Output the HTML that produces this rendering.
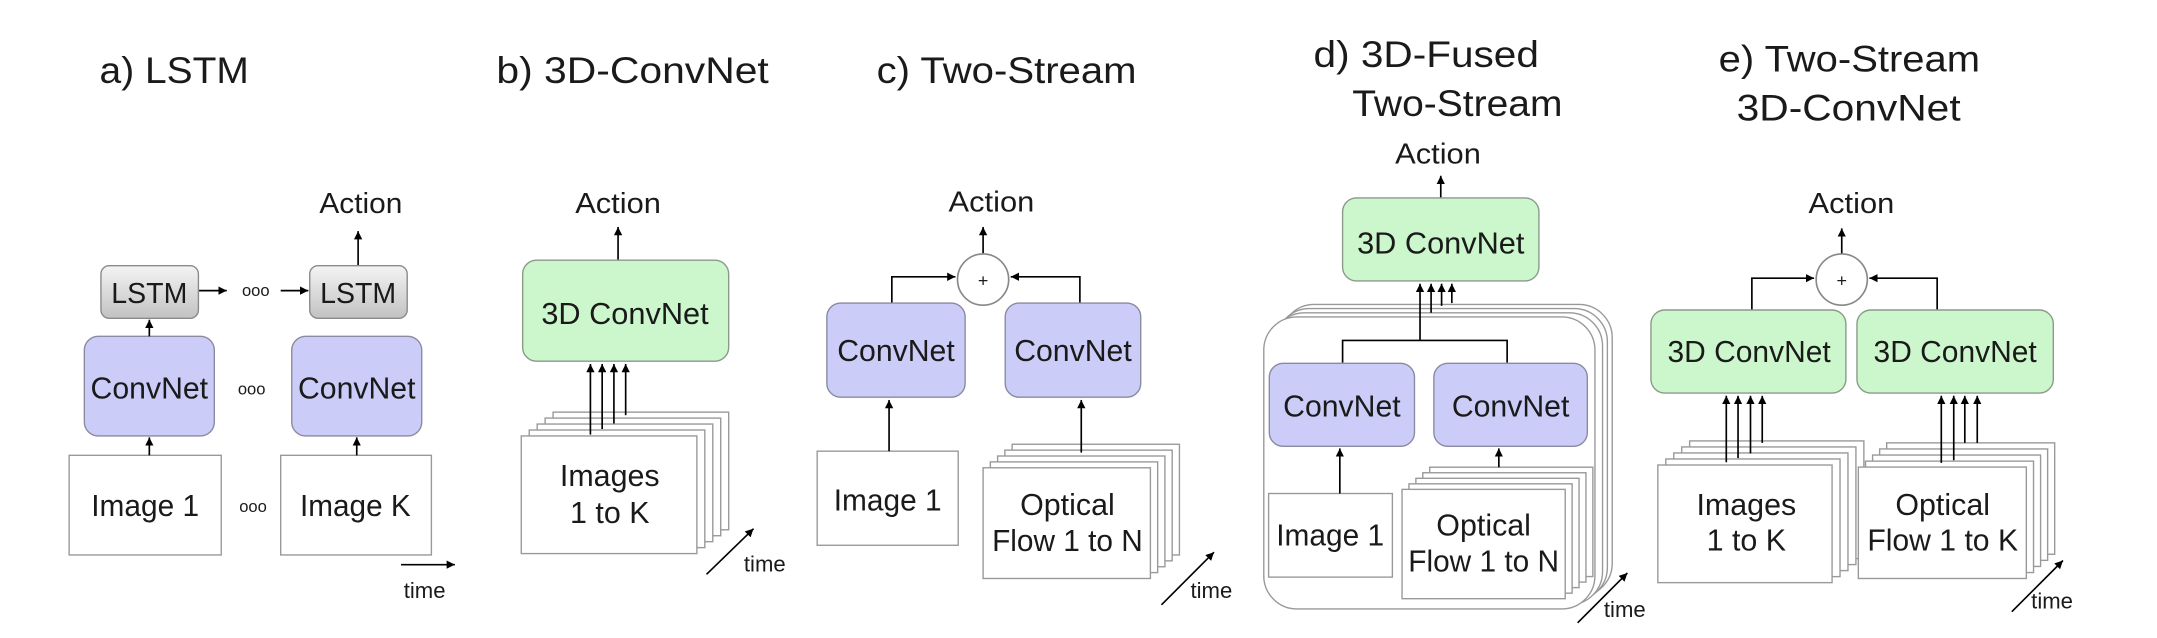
<!DOCTYPE html>
<html><head><meta charset="utf-8"><style>
html,body{margin:0;padding:0;background:#fff;}
svg{display:block;}
text{font-family:"Liberation Sans",sans-serif;fill:#1a1a1a;}
</style></head><body>
<svg width="2157" height="638" viewBox="0 0 1560 461" preserveAspectRatio="none" xmlns="http://www.w3.org/2000/svg">
<defs>
<marker id="ah" markerUnits="userSpaceOnUse" markerWidth="8" markerHeight="8" refX="6" refY="3" orient="auto">
<path d="M0,0 L6,3 L0,6 Z" fill="#000"/>
</marker>
<linearGradient id="lg" x1="0" y1="0" x2="0" y2="1">
<stop offset="0" stop-color="#f4f4f4"/><stop offset="1" stop-color="#c2c2c2"/>
</linearGradient>
</defs>
<g stroke="#000" stroke-width="1.2" fill="none">
</g>

<!-- Titles -->
<text x="72" y="60" font-size="27" textLength="108" lengthAdjust="spacingAndGlyphs">a) LSTM</text>
<text x="359" y="60" font-size="27" textLength="197" lengthAdjust="spacingAndGlyphs">b) 3D-ConvNet</text>
<text x="634" y="60" font-size="27" textLength="188" lengthAdjust="spacingAndGlyphs">c) Two-Stream</text>
<text x="950" y="48.5" font-size="27" textLength="163" lengthAdjust="spacingAndGlyphs">d) 3D-Fused</text>
<text x="978" y="84" font-size="27" textLength="152" lengthAdjust="spacingAndGlyphs">Two-Stream</text>
<text x="1243" y="51.5" font-size="27" textLength="189" lengthAdjust="spacingAndGlyphs">e) Two-Stream</text>
<text x="1256" y="87" font-size="27" textLength="162" lengthAdjust="spacingAndGlyphs">3D-ConvNet</text>

<!-- ===== a) LSTM ===== -->
<text x="231" y="154" font-size="21" textLength="60" lengthAdjust="spacingAndGlyphs">Action</text>
<line x1="259" y1="192" x2="259" y2="167" stroke="#000" stroke-width="1.2" marker-end="url(#ah)"/>
<rect x="73" y="192" width="70.5" height="38" rx="6" fill="url(#lg)" stroke="#8a8a8a"/>
<rect x="224" y="192" width="70.5" height="38" rx="6" fill="url(#lg)" stroke="#8a8a8a"/>
<text x="108" y="219" font-size="21" text-anchor="middle" textLength="55" lengthAdjust="spacingAndGlyphs">LSTM</text>
<text x="259" y="219" font-size="21" text-anchor="middle" textLength="55" lengthAdjust="spacingAndGlyphs">LSTM</text>
<line x1="144" y1="210" x2="164" y2="210" stroke="#000" stroke-width="1.2" marker-end="url(#ah)"/>
<text x="185" y="214" font-size="12" text-anchor="middle">ooo</text>
<line x1="203" y1="210" x2="223" y2="210" stroke="#000" stroke-width="1.2" marker-end="url(#ah)"/>
<rect x="61" y="243" width="94" height="72" rx="10" fill="#ccccf8" stroke="#8a8aa0"/>
<rect x="211" y="243" width="94" height="72" rx="10" fill="#ccccf8" stroke="#8a8aa0"/>
<text x="108" y="288" font-size="22" text-anchor="middle" textLength="85" lengthAdjust="spacingAndGlyphs">ConvNet</text>
<text x="258" y="288" font-size="22" text-anchor="middle" textLength="85" lengthAdjust="spacingAndGlyphs">ConvNet</text>
<line x1="108" y1="243" x2="108" y2="231" stroke="#000" stroke-width="1.2" marker-end="url(#ah)"/>
<text x="182" y="285" font-size="12" text-anchor="middle">ooo</text>
<rect x="50" y="329" width="110" height="72" fill="#fff" stroke="#999"/>
<rect x="203" y="329" width="109" height="72" fill="#fff" stroke="#999"/>
<text x="105" y="373" font-size="22" text-anchor="middle" textLength="78" lengthAdjust="spacingAndGlyphs">Image 1</text>
<text x="257" y="373" font-size="22" text-anchor="middle" textLength="80" lengthAdjust="spacingAndGlyphs">Image K</text>
<line x1="108" y1="329" x2="108" y2="316" stroke="#000" stroke-width="1.2" marker-end="url(#ah)"/>
<line x1="258" y1="329" x2="258" y2="316" stroke="#000" stroke-width="1.2" marker-end="url(#ah)"/>
<text x="183" y="370" font-size="12" text-anchor="middle">ooo</text>
<line x1="290" y1="408" x2="329" y2="408" stroke="#000" stroke-width="1.2" marker-end="url(#ah)"/>
<text x="292" y="432" font-size="16">time</text>

<!-- ===== b) 3D-ConvNet ===== -->
<text x="416" y="154" font-size="21" textLength="62" lengthAdjust="spacingAndGlyphs">Action</text>
<line x1="447" y1="188" x2="447" y2="164" stroke="#000" stroke-width="1.2" marker-end="url(#ah)"/>
<rect x="378" y="188" width="149" height="73" rx="10" fill="#ccf7cc" stroke="#8a9a8a"/>
<text x="452" y="234" font-size="22" text-anchor="middle" textLength="121" lengthAdjust="spacingAndGlyphs">3D ConvNet</text>
<g fill="#fff" stroke="#999">
<rect x="400" y="297.8" width="127" height="85"/>
<rect x="394.25" y="302.1" width="127" height="85"/>
<rect x="388.5" y="306.4" width="127" height="85"/>
<rect x="382.75" y="310.7" width="127" height="85"/>
<rect x="377" y="315" width="127" height="85"/>
</g>
<g stroke="#000" stroke-width="1.2">
<line x1="427" y1="314" x2="427" y2="263" marker-end="url(#ah)"/>
<line x1="435.5" y1="310" x2="435.5" y2="263" marker-end="url(#ah)"/>
<line x1="444" y1="306" x2="444" y2="263" marker-end="url(#ah)"/>
<line x1="452.5" y1="300" x2="452.5" y2="263" marker-end="url(#ah)"/>
</g>
<text x="441" y="351" font-size="22" text-anchor="middle">Images</text>
<text x="441" y="378" font-size="22" text-anchor="middle">1 to K</text>
<line x1="511" y1="415" x2="545" y2="382" stroke="#000" stroke-width="1.2" marker-end="url(#ah)"/>
<text x="538" y="413" font-size="16">time</text>

<!-- ===== c) Two-Stream ===== -->
<text x="686" y="153" font-size="21" textLength="62" lengthAdjust="spacingAndGlyphs">Action</text>
<line x1="711" y1="183" x2="711" y2="164" stroke="#000" stroke-width="1.2" marker-end="url(#ah)"/>
<circle cx="711" cy="202" r="18.5" fill="#fff" stroke="#888" stroke-width="1.2"/>
<text x="711" y="207" font-size="13" text-anchor="middle">+</text>
<polyline points="645,219 645,200 691,200" fill="none" stroke="#000" stroke-width="1.2" marker-end="url(#ah)"/>
<polyline points="781,219 781,200 731,200" fill="none" stroke="#000" stroke-width="1.2" marker-end="url(#ah)"/>
<rect x="598" y="219" width="100" height="68" rx="10" fill="#ccccf8" stroke="#8a8aa0"/>
<rect x="727" y="219" width="98" height="68" rx="10" fill="#ccccf8" stroke="#8a8aa0"/>
<text x="648" y="261" font-size="22" text-anchor="middle" textLength="85" lengthAdjust="spacingAndGlyphs">ConvNet</text>
<text x="776" y="261" font-size="22" text-anchor="middle" textLength="85" lengthAdjust="spacingAndGlyphs">ConvNet</text>
<rect x="591" y="326" width="102" height="68" fill="#fff" stroke="#999"/>
<text x="642" y="369" font-size="22" text-anchor="middle" textLength="78" lengthAdjust="spacingAndGlyphs">Image 1</text>
<line x1="643" y1="326" x2="643" y2="289" stroke="#000" stroke-width="1.2" marker-end="url(#ah)"/>
<g fill="#fff" stroke="#999">
<rect x="732" y="321" width="121" height="80"/>
<rect x="726.75" y="325.25" width="121" height="80"/>
<rect x="721.5" y="329.5" width="121" height="80"/>
<rect x="716.25" y="333.75" width="121" height="80"/>
<rect x="711" y="338" width="121" height="80"/>
</g>
<line x1="782" y1="327" x2="782" y2="289" stroke="#000" stroke-width="1.2" marker-end="url(#ah)"/>
<text x="772" y="372" font-size="22" text-anchor="middle">Optical</text>
<text x="772" y="398" font-size="22" text-anchor="middle" textLength="109" lengthAdjust="spacingAndGlyphs">Flow 1 to N</text>
<line x1="840" y1="437" x2="878" y2="399" stroke="#000" stroke-width="1.2" marker-end="url(#ah)"/>
<text x="861" y="432" font-size="16">time</text>

<!-- ===== d) 3D-Fused ===== -->
<text x="1009" y="118" font-size="21" textLength="62" lengthAdjust="spacingAndGlyphs">Action</text>
<line x1="1042" y1="143" x2="1042" y2="127" stroke="#000" stroke-width="1.2" marker-end="url(#ah)"/>
<rect x="971" y="143" width="142" height="60" rx="10" fill="#ccf7cc" stroke="#8a9a8a"/>
<text x="1042" y="183" font-size="22" text-anchor="middle" textLength="121" lengthAdjust="spacingAndGlyphs">3D ConvNet</text>
<g fill="#fff" stroke="#999">
<rect x="926.5" y="220" width="239.5" height="211" rx="24"/>
<rect x="923" y="223" width="239.5" height="211" rx="24"/>
<rect x="919.5" y="226" width="239.5" height="211" rx="24"/>
<rect x="914" y="229" width="239.5" height="211" rx="24"/>
</g>
<g stroke="#000" stroke-width="1.2" fill="none">
<polyline points="971,262 971,246 1090,246 1090,262"/>
<line x1="1027" y1="246" x2="1027" y2="205" marker-end="url(#ah)"/>
<line x1="1035" y1="226" x2="1035" y2="205" marker-end="url(#ah)"/>
<line x1="1042.6" y1="221" x2="1042.6" y2="205" marker-end="url(#ah)"/>
<line x1="1050" y1="219" x2="1050" y2="205" marker-end="url(#ah)"/>
</g>
<rect x="918" y="262.5" width="105" height="60" rx="10" fill="#ccccf8" stroke="#8a8aa0"/>
<rect x="1037" y="262.5" width="111" height="60" rx="10" fill="#ccccf8" stroke="#8a8aa0"/>
<text x="970.5" y="301" font-size="22" text-anchor="middle" textLength="85" lengthAdjust="spacingAndGlyphs">ConvNet</text>
<text x="1092.5" y="301" font-size="22" text-anchor="middle" textLength="85" lengthAdjust="spacingAndGlyphs">ConvNet</text>
<rect x="917.5" y="356.6" width="89.5" height="60.4" fill="#fff" stroke="#999"/>
<text x="962" y="394" font-size="22" text-anchor="middle" textLength="78" lengthAdjust="spacingAndGlyphs">Image 1</text>
<line x1="969" y1="356.6" x2="969" y2="324" stroke="#000" stroke-width="1.2" marker-end="url(#ah)"/>
<g fill="#fff" stroke="#999">
<rect x="1034" y="337.6" width="118" height="79"/>
<rect x="1029" y="341.6" width="118" height="79"/>
<rect x="1024" y="345.6" width="118" height="79"/>
<rect x="1019" y="349.6" width="118" height="79"/>
<rect x="1014" y="353.6" width="118" height="79"/>
</g>
<line x1="1084" y1="337.6" x2="1084" y2="324" stroke="#000" stroke-width="1.2" marker-end="url(#ah)"/>
<text x="1073" y="387" font-size="22" text-anchor="middle">Optical</text>
<text x="1073" y="413" font-size="22" text-anchor="middle" textLength="109" lengthAdjust="spacingAndGlyphs">Flow 1 to N</text>
<line x1="1141" y1="450" x2="1177" y2="414" stroke="#000" stroke-width="1.2" marker-end="url(#ah)"/>
<text x="1160" y="446" font-size="16">time</text>

<!-- ===== e) Two-Stream 3D-ConvNet ===== -->
<text x="1308" y="154" font-size="21" textLength="62" lengthAdjust="spacingAndGlyphs">Action</text>
<line x1="1332" y1="184" x2="1332" y2="165" stroke="#000" stroke-width="1.2" marker-end="url(#ah)"/>
<circle cx="1332" cy="202" r="18.5" fill="#fff" stroke="#888" stroke-width="1.2"/>
<text x="1332" y="207" font-size="13" text-anchor="middle">+</text>
<polyline points="1267,224 1267,201 1312,201" fill="none" stroke="#000" stroke-width="1.2" marker-end="url(#ah)"/>
<polyline points="1401,224 1401,201 1352,201" fill="none" stroke="#000" stroke-width="1.2" marker-end="url(#ah)"/>
<rect x="1194" y="224" width="141" height="60" rx="10" fill="#ccf7cc" stroke="#8a9a8a"/>
<rect x="1343" y="224" width="142" height="60" rx="10" fill="#ccf7cc" stroke="#8a9a8a"/>
<text x="1265" y="261.5" font-size="22" text-anchor="middle" textLength="118" lengthAdjust="spacingAndGlyphs">3D ConvNet</text>
<text x="1414" y="261.5" font-size="22" text-anchor="middle" textLength="118" lengthAdjust="spacingAndGlyphs">3D ConvNet</text>
<g fill="#fff" stroke="#999">
<rect x="1222" y="318.6" width="126" height="85"/>
<rect x="1216.25" y="322.95" width="126" height="85"/>
<rect x="1210.5" y="327.3" width="126" height="85"/>
<rect x="1204.75" y="331.65" width="126" height="85"/>
<rect x="1199" y="336" width="126" height="85"/>
</g>
<g stroke="#000" stroke-width="1.2">
<line x1="1248.5" y1="334" x2="1248.5" y2="286" marker-end="url(#ah)"/>
<line x1="1257" y1="331" x2="1257" y2="286" marker-end="url(#ah)"/>
<line x1="1266" y1="327.6" x2="1266" y2="286" marker-end="url(#ah)"/>
<line x1="1274.5" y1="320" x2="1274.5" y2="286" marker-end="url(#ah)"/>
</g>
<text x="1263" y="372" font-size="22" text-anchor="middle">Images</text>
<text x="1263" y="397.7" font-size="22" text-anchor="middle">1 to K</text>
<g fill="#fff" stroke="#999">
<rect x="1364.5" y="320" width="121.5" height="80.5"/>
<rect x="1359.4" y="324.4" width="121.5" height="80.5"/>
<rect x="1354.3" y="328.8" width="121.5" height="80.5"/>
<rect x="1349.2" y="333.2" width="121.5" height="80.5"/>
<rect x="1344" y="337.5" width="121.5" height="80.5"/>
</g>
<g stroke="#000" stroke-width="1.2">
<line x1="1404" y1="334.5" x2="1404" y2="286" marker-end="url(#ah)"/>
<line x1="1413" y1="332.6" x2="1413" y2="286" marker-end="url(#ah)"/>
<line x1="1421" y1="320" x2="1421" y2="286" marker-end="url(#ah)"/>
<line x1="1430" y1="320" x2="1430" y2="286" marker-end="url(#ah)"/>
</g>
<text x="1405" y="372" font-size="22" text-anchor="middle">Optical</text>
<text x="1405" y="397.7" font-size="22" text-anchor="middle" textLength="109" lengthAdjust="spacingAndGlyphs">Flow 1 to K</text>
<line x1="1455" y1="442" x2="1492" y2="405" stroke="#000" stroke-width="1.2" marker-end="url(#ah)"/>
<text x="1469" y="439.6" font-size="16">time</text>
</svg>
</body></html>
